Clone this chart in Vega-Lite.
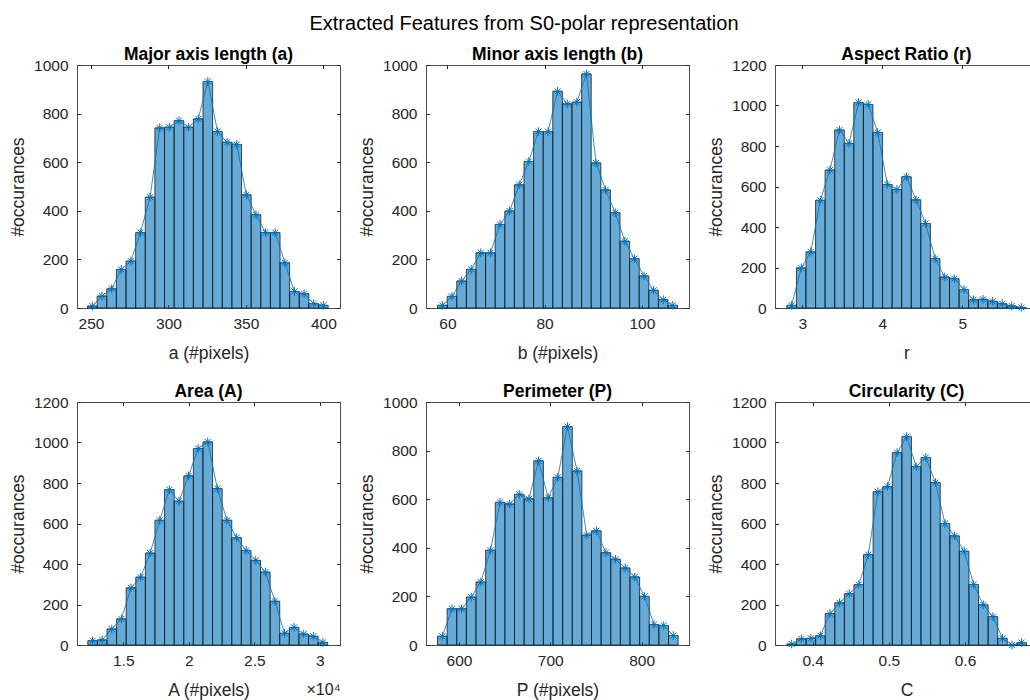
{
"$schema": "https://vega.github.io/schema/vega-lite/v6.json",
"padding": {"left": 9, "top": 14, "right": 0, "bottom": 0},
"background": "white",
"config": {
 "font": "Liberation Sans",
 "view": {"stroke": "#4d4d4d", "strokeWidth": 1},
 "axis": {"domain": false, "grid": false, "tickColor": "#262626", "tickSize": -3.5, "tickWidth": 1, "labelFontSize": 15.5, "labelColor": "#262626", "labelPadding": 11.5, "titleFontSize": 17.5, "titleFontWeight": "normal", "titleColor": "#262626", "labelFont": "Liberation Sans", "titleFont": "Liberation Sans"},
 "axisLeft": {"labelPadding": 12.5, "titlePadding": 6},
 "axisBottom": {"titlePadding": 13},
 "title": {"fontSize": 17.5, "fontWeight": "bold", "color": "#000000", "offset": -5.5, "font": "Liberation Sans"}
},
"datasets": {
 "a": [
  {"lo":247.75,"hi":253.96,"mid":250.86,"n":8},{"lo":253.96,"hi":260.18,"mid":257.07,"n":49},{"lo":260.18,"hi":266.39,"mid":263.29,"n":79},{"lo":266.39,"hi":272.61,"mid":269.50,"n":159},{"lo":272.61,"hi":278.82,"mid":275.71,"n":193},
  {"lo":278.82,"hi":285.03,"mid":281.93,"n":310},{"lo":285.03,"hi":291.25,"mid":288.14,"n":456},{"lo":291.25,"hi":297.46,"mid":294.36,"n":741},{"lo":297.46,"hi":303.68,"mid":300.57,"n":744},{"lo":303.68,"hi":309.89,"mid":306.78,"n":771},
  {"lo":309.89,"hi":316.10,"mid":313.00,"n":744},{"lo":316.10,"hi":322.32,"mid":319.21,"n":778},{"lo":322.32,"hi":328.53,"mid":325.43,"n":932},{"lo":328.53,"hi":334.75,"mid":331.64,"n":726},{"lo":334.75,"hi":340.96,"mid":337.85,"n":682},
  {"lo":340.96,"hi":347.17,"mid":344.07,"n":673},{"lo":347.17,"hi":353.39,"mid":350.28,"n":466},{"lo":353.39,"hi":359.60,"mid":356.50,"n":384},{"lo":359.60,"hi":365.82,"mid":362.71,"n":310},{"lo":365.82,"hi":372.03,"mid":368.92,"n":310},
  {"lo":372.03,"hi":378.24,"mid":375.14,"n":186},{"lo":378.24,"hi":384.46,"mid":381.35,"n":68},{"lo":384.46,"hi":390.67,"mid":387.57,"n":59},{"lo":390.67,"hi":396.89,"mid":393.78,"n":18},{"lo":396.89,"hi":403.10,"mid":400.00,"n":11}
 ],
 "b": [
  {"lo":57.98,"hi":59.96,"mid":58.97,"n":11},{"lo":59.96,"hi":61.93,"mid":60.94,"n":48},{"lo":61.93,"hi":63.91,"mid":62.92,"n":111},{"lo":63.91,"hi":65.88,"mid":64.89,"n":159},{"lo":65.88,"hi":67.86,"mid":66.87,"n":227},
  {"lo":67.86,"hi":69.83,"mid":68.85,"n":227},{"lo":69.83,"hi":71.81,"mid":70.82,"n":344},{"lo":71.81,"hi":73.78,"mid":72.80,"n":399},{"lo":73.78,"hi":75.76,"mid":74.77,"n":507},{"lo":75.76,"hi":77.73,"mid":76.75,"n":603},
  {"lo":77.73,"hi":79.71,"mid":78.72,"n":726},{"lo":79.71,"hi":81.68,"mid":80.70,"n":726},{"lo":81.68,"hi":83.66,"mid":82.67,"n":892},{"lo":83.66,"hi":85.63,"mid":84.65,"n":840},{"lo":85.63,"hi":87.61,"mid":86.62,"n":847},
  {"lo":87.61,"hi":89.58,"mid":88.60,"n":963},{"lo":89.58,"hi":91.56,"mid":90.57,"n":597},{"lo":91.56,"hi":93.53,"mid":92.55,"n":486},{"lo":93.53,"hi":95.51,"mid":94.52,"n":392},{"lo":95.51,"hi":97.48,"mid":96.50,"n":275},
  {"lo":97.48,"hi":99.46,"mid":98.47,"n":203},{"lo":99.46,"hi":101.43,"mid":100.45,"n":132},{"lo":101.43,"hi":103.41,"mid":102.42,"n":73},{"lo":103.41,"hi":105.38,"mid":104.40,"n":34},{"lo":105.38,"hi":107.36,"mid":106.37,"n":11}
 ],
 "r": [
  {"lo":2.807,"hi":2.927,"mid":2.867,"n":13},{"lo":2.927,"hi":3.046,"mid":2.987,"n":198},{"lo":3.046,"hi":3.166,"mid":3.106,"n":277},{"lo":3.166,"hi":3.285,"mid":3.226,"n":532},{"lo":3.285,"hi":3.405,"mid":3.345,"n":681},
  {"lo":3.405,"hi":3.525,"mid":3.465,"n":879},{"lo":3.525,"hi":3.644,"mid":3.585,"n":813},{"lo":3.644,"hi":3.764,"mid":3.704,"n":1015},{"lo":3.764,"hi":3.883,"mid":3.824,"n":1005},{"lo":3.883,"hi":4.003,"mid":3.943,"n":867},
  {"lo":4.003,"hi":4.123,"mid":4.063,"n":610},{"lo":4.123,"hi":4.242,"mid":4.183,"n":585},{"lo":4.242,"hi":4.362,"mid":4.302,"n":648},{"lo":4.362,"hi":4.481,"mid":4.422,"n":534},{"lo":4.481,"hi":4.601,"mid":4.541,"n":417},
  {"lo":4.601,"hi":4.721,"mid":4.661,"n":244},{"lo":4.721,"hi":4.840,"mid":4.781,"n":153},{"lo":4.840,"hi":4.960,"mid":4.900,"n":145},{"lo":4.960,"hi":5.079,"mid":5.020,"n":91},{"lo":5.079,"hi":5.199,"mid":5.139,"n":40},
  {"lo":5.199,"hi":5.319,"mid":5.259,"n":43},{"lo":5.319,"hi":5.438,"mid":5.379,"n":33},{"lo":5.438,"hi":5.558,"mid":5.498,"n":21},{"lo":5.558,"hi":5.677,"mid":5.618,"n":10},{"lo":5.677,"hi":5.797,"mid":5.737,"n":3}
 ],
 "A": [
  {"lo":12294,"hi":13026,"mid":12660,"n":21},{"lo":13026,"hi":13758,"mid":13392,"n":25},{"lo":13758,"hi":14490,"mid":14124,"n":79},{"lo":14490,"hi":15222,"mid":14856,"n":129},{"lo":15222,"hi":15954,"mid":15588,"n":282},
  {"lo":15954,"hi":16686,"mid":16320,"n":335},{"lo":16686,"hi":17418,"mid":17052,"n":454},{"lo":17418,"hi":18150,"mid":17784,"n":616},{"lo":18150,"hi":18882,"mid":18516,"n":767},{"lo":18882,"hi":19614,"mid":19248,"n":710},
  {"lo":19614,"hi":20346,"mid":19980,"n":835},{"lo":20346,"hi":21078,"mid":20712,"n":970},{"lo":21078,"hi":21810,"mid":21444,"n":1003},{"lo":21810,"hi":22542,"mid":22176,"n":772},{"lo":22542,"hi":23274,"mid":22908,"n":616},
  {"lo":23274,"hi":24006,"mid":23640,"n":530},{"lo":24006,"hi":24738,"mid":24372,"n":467},{"lo":24738,"hi":25470,"mid":25104,"n":418},{"lo":25470,"hi":26202,"mid":25836,"n":360},{"lo":26202,"hi":26934,"mid":26568,"n":216},
  {"lo":26934,"hi":27666,"mid":27300,"n":58},{"lo":27666,"hi":28398,"mid":28032,"n":87},{"lo":28398,"hi":29130,"mid":28764,"n":54},{"lo":29130,"hi":29862,"mid":29496,"n":43},{"lo":29862,"hi":30594,"mid":30228,"n":13}
 ],
 "P": [
  {"lo":576.50,"hi":587.04,"mid":581.77,"n":36},{"lo":587.04,"hi":597.58,"mid":592.31,"n":149},{"lo":597.58,"hi":608.12,"mid":602.85,"n":149},{"lo":608.12,"hi":618.66,"mid":613.39,"n":197},{"lo":618.66,"hi":629.20,"mid":623.93,"n":259},
  {"lo":629.20,"hi":639.74,"mid":634.47,"n":390},{"lo":639.74,"hi":650.28,"mid":645.01,"n":587},{"lo":650.28,"hi":660.82,"mid":655.55,"n":580},{"lo":660.82,"hi":671.36,"mid":666.09,"n":620},{"lo":671.36,"hi":681.90,"mid":676.63,"n":601},
  {"lo":681.90,"hi":692.44,"mid":687.17,"n":758},{"lo":692.44,"hi":702.98,"mid":697.71,"n":606},{"lo":702.98,"hi":713.52,"mid":708.25,"n":690},{"lo":713.52,"hi":724.06,"mid":718.79,"n":899},{"lo":724.06,"hi":734.60,"mid":729.33,"n":716},
  {"lo":734.60,"hi":745.14,"mid":739.87,"n":452},{"lo":745.14,"hi":755.68,"mid":750.41,"n":470},{"lo":755.68,"hi":766.22,"mid":760.95,"n":380},{"lo":766.22,"hi":776.76,"mid":771.49,"n":353},{"lo":776.76,"hi":787.30,"mid":782.03,"n":317},
  {"lo":787.30,"hi":797.84,"mid":792.57,"n":280},{"lo":797.84,"hi":808.38,"mid":803.11,"n":200},{"lo":808.38,"hi":818.92,"mid":813.65,"n":84},{"lo":818.92,"hi":829.46,"mid":824.19,"n":80},{"lo":829.46,"hi":840.00,"mid":834.73,"n":39}
 ],
 "C": [
  {"lo":0.3661,"hi":0.3787,"mid":0.3724,"n":5},{"lo":0.3787,"hi":0.3913,"mid":0.3850,"n":30},{"lo":0.3913,"hi":0.4038,"mid":0.3976,"n":33},{"lo":0.4038,"hi":0.4164,"mid":0.4101,"n":46},{"lo":0.4164,"hi":0.4290,"mid":0.4227,"n":155},
  {"lo":0.4290,"hi":0.4416,"mid":0.4353,"n":208},{"lo":0.4416,"hi":0.4542,"mid":0.4479,"n":253},{"lo":0.4542,"hi":0.4667,"mid":0.4605,"n":298},{"lo":0.4667,"hi":0.4793,"mid":0.4730,"n":446},{"lo":0.4793,"hi":0.4919,"mid":0.4856,"n":757},
  {"lo":0.4919,"hi":0.5045,"mid":0.4982,"n":782},{"lo":0.5045,"hi":0.5171,"mid":0.5108,"n":950},{"lo":0.5171,"hi":0.5296,"mid":0.5234,"n":1030},{"lo":0.5296,"hi":0.5422,"mid":0.5359,"n":881},{"lo":0.5422,"hi":0.5548,"mid":0.5485,"n":926},
  {"lo":0.5548,"hi":0.5674,"mid":0.5611,"n":802},{"lo":0.5674,"hi":0.5800,"mid":0.5737,"n":600},{"lo":0.5800,"hi":0.5925,"mid":0.5863,"n":539},{"lo":0.5925,"hi":0.6051,"mid":0.5988,"n":463},{"lo":0.6051,"hi":0.6177,"mid":0.6114,"n":299},
  {"lo":0.6177,"hi":0.6303,"mid":0.6240,"n":198},{"lo":0.6303,"hi":0.6429,"mid":0.6366,"n":140},{"lo":0.6429,"hi":0.6554,"mid":0.6492,"n":33},{"lo":0.6554,"hi":0.6680,"mid":0.6617,"n":0},{"lo":0.6680,"hi":0.6806,"mid":0.6743,"n":12}
 ]
},
"title": {"text": "Extracted Features from S0-polar representation", "fontSize": 20, "fontWeight": "normal", "color": "#000000", "anchor": "middle", "offset": 11.5},
"columns": 3,
"spacing": {"row": 94, "column": 86},
"bounds": "flush",
"concat": [
  {"width": 263, "height": 243, "title": "Major axis length (a)", "data": {"name": "a"},
   "resolve": {"axis": {"x": "independent", "y": "independent"}},
   "layer": [
    {"mark": {"type": "bar", "color": "#0072BD", "fillOpacity": 0.6, "stroke": "#1a1a1a", "strokeWidth": 0.8},
     "encoding": {
      "x": {"field": "lo", "type": "quantitative", "scale": {"domain": [240.96, 410.75], "nice": false, "zero": false}, "axis": {"values": [250, 300, 350, 400], "format": "d", "title": "a (#pixels)"}},
      "x2": {"field": "hi"},
      "y": {"field": "n", "type": "quantitative", "scale": {"domain": [0, 1000], "nice": false}, "axis": {"values": [0, 200, 400, 600, 800, 1000], "format": "d", "title": "#occurances"}},
      "y2": {"datum": 0}}},
    {"mark": {"type": "line", "color": "#0072BD", "strokeWidth": 0.8},
     "encoding": {
      "x": {"field": "mid", "type": "quantitative", "scale": {"domain": [240.96, 410.75], "nice": false, "zero": false}, "axis": {"orient": "top", "values": [250, 300, 350, 400], "labels": false, "title": null}},
      "y": {"field": "n", "type": "quantitative", "scale": {"domain": [0, 1000], "nice": false}, "axis": {"orient": "right", "values": [0, 200, 400, 600, 800, 1000], "labels": false, "title": null}}}},
    {"mark": {"type": "point", "shape": "M0,-1L0,1M-1,0L1,0M-0.7,-0.7L0.7,0.7M-0.7,0.7L0.7,-0.7", "size": 75, "filled": false, "color": "#0072BD", "strokeWidth": 1, "opacity": 1},
     "encoding": {
      "x": {"field": "mid", "type": "quantitative", "scale": {"domain": [240.96, 410.75], "nice": false, "zero": false}, "axis": null},
      "y": {"field": "n", "type": "quantitative", "scale": {"domain": [0, 1000], "nice": false}, "axis": null}}}
   ]},
  {"width": 263, "height": 243, "title": "Minor axis length (b)", "data": {"name": "b"},
   "resolve": {"axis": {"x": "independent", "y": "independent"}},
   "layer": [
    {"mark": {"type": "bar", "color": "#0072BD", "fillOpacity": 0.6, "stroke": "#1a1a1a", "strokeWidth": 0.8},
     "encoding": {
      "x": {"field": "lo", "type": "quantitative", "scale": {"domain": [55.6, 109.7], "nice": false, "zero": false}, "axis": {"values": [60, 80, 100], "format": "d", "title": "b (#pixels)"}},
      "x2": {"field": "hi"},
      "y": {"field": "n", "type": "quantitative", "scale": {"domain": [0, 1000], "nice": false}, "axis": {"values": [0, 200, 400, 600, 800, 1000], "format": "d", "title": "#occurances"}},
      "y2": {"datum": 0}}},
    {"mark": {"type": "line", "color": "#0072BD", "strokeWidth": 0.8},
     "encoding": {
      "x": {"field": "mid", "type": "quantitative", "scale": {"domain": [55.6, 109.7], "nice": false, "zero": false}, "axis": {"orient": "top", "values": [60, 80, 100], "labels": false, "title": null}},
      "y": {"field": "n", "type": "quantitative", "scale": {"domain": [0, 1000], "nice": false}, "axis": {"orient": "right", "values": [0, 200, 400, 600, 800, 1000], "labels": false, "title": null}}}},
    {"mark": {"type": "point", "shape": "M0,-1L0,1M-1,0L1,0M-0.7,-0.7L0.7,0.7M-0.7,0.7L0.7,-0.7", "size": 75, "filled": false, "color": "#0072BD", "strokeWidth": 1, "opacity": 1},
     "encoding": {
      "x": {"field": "mid", "type": "quantitative", "scale": {"domain": [55.6, 109.7], "nice": false, "zero": false}, "axis": null},
      "y": {"field": "n", "type": "quantitative", "scale": {"domain": [0, 1000], "nice": false}, "axis": null}}}
   ]},
  {"width": 263, "height": 243, "title": "Aspect Ratio (r)", "data": {"name": "r"},
   "resolve": {"axis": {"x": "independent", "y": "independent"}},
   "layer": [
    {"mark": {"type": "bar", "color": "#0072BD", "fillOpacity": 0.6, "stroke": "#1a1a1a", "strokeWidth": 0.8},
     "encoding": {
      "x": {"field": "lo", "type": "quantitative", "scale": {"domain": [2.659, 5.946], "nice": false, "zero": false}, "axis": {"values": [3, 4, 5], "format": "d", "title": "r"}},
      "x2": {"field": "hi"},
      "y": {"field": "n", "type": "quantitative", "scale": {"domain": [0, 1200], "nice": false}, "axis": {"values": [0, 200, 400, 600, 800, 1000, 1200], "format": "d", "title": "#occurances"}},
      "y2": {"datum": 0}}},
    {"mark": {"type": "line", "color": "#0072BD", "strokeWidth": 0.8},
     "encoding": {
      "x": {"field": "mid", "type": "quantitative", "scale": {"domain": [2.659, 5.946], "nice": false, "zero": false}, "axis": {"orient": "top", "values": [3, 4, 5], "labels": false, "title": null}},
      "y": {"field": "n", "type": "quantitative", "scale": {"domain": [0, 1200], "nice": false}, "axis": {"orient": "right", "values": [0, 200, 400, 600, 800, 1000, 1200], "labels": false, "title": null}}}},
    {"mark": {"type": "point", "shape": "M0,-1L0,1M-1,0L1,0M-0.7,-0.7L0.7,0.7M-0.7,0.7L0.7,-0.7", "size": 75, "filled": false, "color": "#0072BD", "strokeWidth": 1, "opacity": 1},
     "encoding": {
      "x": {"field": "mid", "type": "quantitative", "scale": {"domain": [2.659, 5.946], "nice": false, "zero": false}, "axis": null},
      "y": {"field": "n", "type": "quantitative", "scale": {"domain": [0, 1200], "nice": false}, "axis": null}}}
   ]},
  {"width": 263, "height": 243, "title": "Area (A)", "data": {"name": "A"},
   "resolve": {"axis": {"x": "independent", "y": "independent"}},
   "layer": [
    {"mark": {"type": "bar", "color": "#0072BD", "fillOpacity": 0.6, "stroke": "#1a1a1a", "strokeWidth": 0.8},
     "encoding": {
      "x": {"field": "lo", "type": "quantitative", "scale": {"domain": [11470, 31531], "nice": false, "zero": false}, "axis": {"values": [15000, 20000, 25000, 30000], "labelExpr": "datum.value / 10000", "title": "A (#pixels)"}},
      "x2": {"field": "hi"},
      "y": {"field": "n", "type": "quantitative", "scale": {"domain": [0, 1200], "nice": false}, "axis": {"values": [0, 200, 400, 600, 800, 1000, 1200], "format": "d", "title": "#occurances"}},
      "y2": {"datum": 0}}},
    {"mark": {"type": "line", "color": "#0072BD", "strokeWidth": 0.8},
     "encoding": {
      "x": {"field": "mid", "type": "quantitative", "scale": {"domain": [11470, 31531], "nice": false, "zero": false}, "axis": {"orient": "top", "values": [15000, 20000, 25000, 30000], "labels": false, "title": null}},
      "y": {"field": "n", "type": "quantitative", "scale": {"domain": [0, 1200], "nice": false}, "axis": {"orient": "right", "values": [0, 200, 400, 600, 800, 1000, 1200], "labels": false, "title": null}}}},
    {"mark": {"type": "point", "shape": "M0,-1L0,1M-1,0L1,0M-0.7,-0.7L0.7,0.7M-0.7,0.7L0.7,-0.7", "size": 75, "filled": false, "color": "#0072BD", "strokeWidth": 1, "opacity": 1},
     "encoding": {
      "x": {"field": "mid", "type": "quantitative", "scale": {"domain": [11470, 31531], "nice": false, "zero": false}, "axis": {"orient": "bottom", "labels": false, "ticks": false, "domain": false, "title": "×10⁴", "titleAnchor": "end", "titleFontSize": 16, "titlePadding": 36}},
      "y": {"field": "n", "type": "quantitative", "scale": {"domain": [0, 1200], "nice": false}, "axis": null}}}
   ]},
  {"width": 263, "height": 243, "title": "Perimeter (P)", "data": {"name": "P"},
   "resolve": {"axis": {"x": "independent", "y": "independent"}},
   "layer": [
    {"mark": {"type": "bar", "color": "#0072BD", "fillOpacity": 0.6, "stroke": "#1a1a1a", "strokeWidth": 0.8},
     "encoding": {
      "x": {"field": "lo", "type": "quantitative", "scale": {"domain": [563.9, 851.9], "nice": false, "zero": false}, "axis": {"values": [600, 700, 800], "format": "d", "title": "P (#pixels)"}},
      "x2": {"field": "hi"},
      "y": {"field": "n", "type": "quantitative", "scale": {"domain": [0, 1000], "nice": false}, "axis": {"values": [0, 200, 400, 600, 800, 1000], "format": "d", "title": "#occurances"}},
      "y2": {"datum": 0}}},
    {"mark": {"type": "line", "color": "#0072BD", "strokeWidth": 0.8},
     "encoding": {
      "x": {"field": "mid", "type": "quantitative", "scale": {"domain": [563.9, 851.9], "nice": false, "zero": false}, "axis": {"orient": "top", "values": [600, 700, 800], "labels": false, "title": null}},
      "y": {"field": "n", "type": "quantitative", "scale": {"domain": [0, 1000], "nice": false}, "axis": {"orient": "right", "values": [0, 200, 400, 600, 800, 1000], "labels": false, "title": null}}}},
    {"mark": {"type": "point", "shape": "M0,-1L0,1M-1,0L1,0M-0.7,-0.7L0.7,0.7M-0.7,0.7L0.7,-0.7", "size": 75, "filled": false, "color": "#0072BD", "strokeWidth": 1, "opacity": 1},
     "encoding": {
      "x": {"field": "mid", "type": "quantitative", "scale": {"domain": [563.9, 851.9], "nice": false, "zero": false}, "axis": null},
      "y": {"field": "n", "type": "quantitative", "scale": {"domain": [0, 1000], "nice": false}, "axis": null}}}
   ]},
  {"width": 263, "height": 243, "title": "Circularity (C)", "data": {"name": "C"},
   "resolve": {"axis": {"x": "independent", "y": "independent"}},
   "layer": [
    {"mark": {"type": "bar", "color": "#0072BD", "fillOpacity": 0.6, "stroke": "#1a1a1a", "strokeWidth": 0.8},
     "encoding": {
      "x": {"field": "lo", "type": "quantitative", "scale": {"domain": [0.3505, 0.6958], "nice": false, "zero": false}, "axis": {"values": [0.4, 0.5, 0.6], "format": ".1f", "title": "C"}},
      "x2": {"field": "hi"},
      "y": {"field": "n", "type": "quantitative", "scale": {"domain": [0, 1200], "nice": false}, "axis": {"values": [0, 200, 400, 600, 800, 1000, 1200], "format": "d", "title": "#occurances"}},
      "y2": {"datum": 0}}},
    {"mark": {"type": "line", "color": "#0072BD", "strokeWidth": 0.8},
     "encoding": {
      "x": {"field": "mid", "type": "quantitative", "scale": {"domain": [0.3505, 0.6958], "nice": false, "zero": false}, "axis": {"orient": "top", "values": [0.4, 0.5, 0.6], "labels": false, "title": null}},
      "y": {"field": "n", "type": "quantitative", "scale": {"domain": [0, 1200], "nice": false}, "axis": {"orient": "right", "values": [0, 200, 400, 600, 800, 1000, 1200], "labels": false, "title": null}}}},
    {"mark": {"type": "point", "shape": "M0,-1L0,1M-1,0L1,0M-0.7,-0.7L0.7,0.7M-0.7,0.7L0.7,-0.7", "size": 75, "filled": false, "color": "#0072BD", "strokeWidth": 1, "opacity": 1},
     "encoding": {
      "x": {"field": "mid", "type": "quantitative", "scale": {"domain": [0.3505, 0.6958], "nice": false, "zero": false}, "axis": null},
      "y": {"field": "n", "type": "quantitative", "scale": {"domain": [0, 1200], "nice": false}, "axis": null}}}
   ]}
]
}
